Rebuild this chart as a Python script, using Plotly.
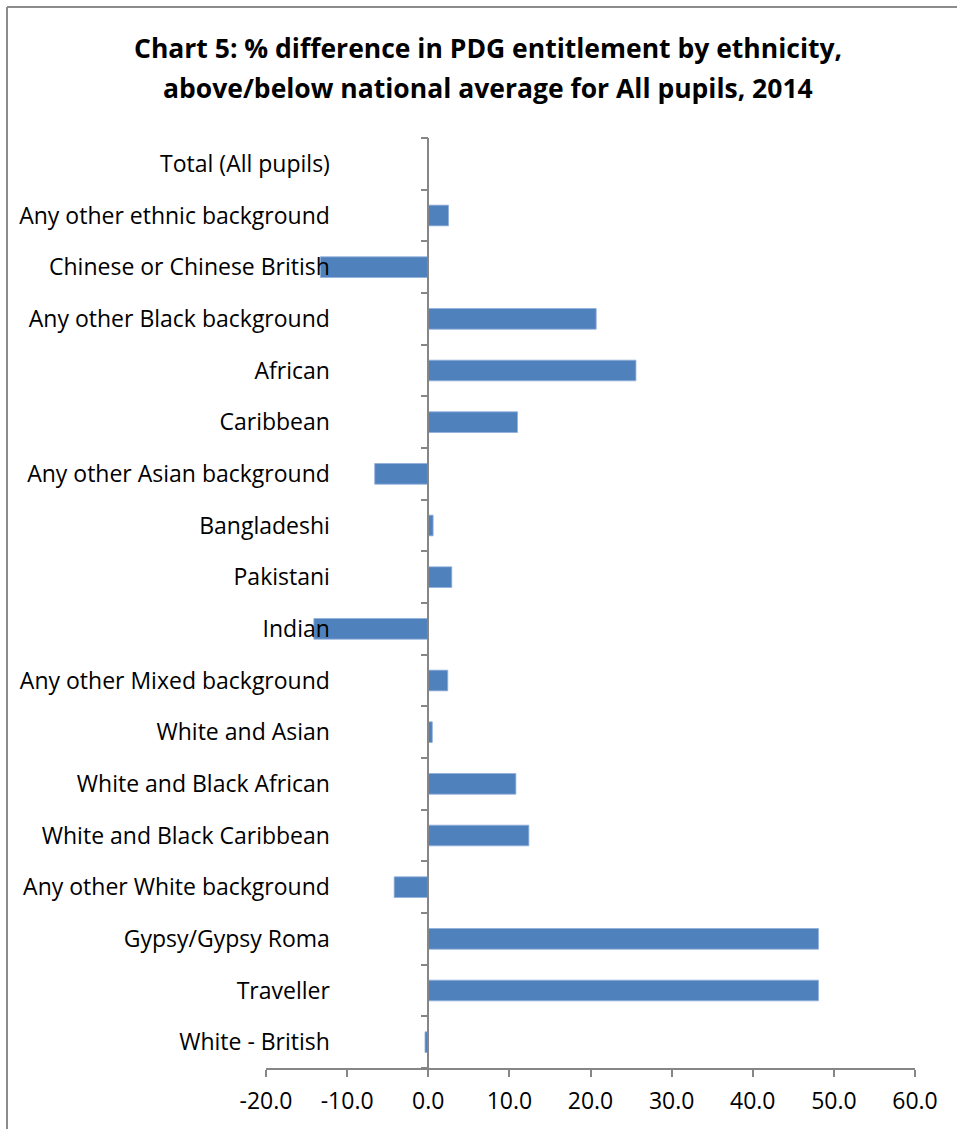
import plotly.graph_objects as go

# Ethnic groups, listed bottom to top as they appear on the chart
groups = [
    "White - British",
    "Traveller",
    "Gypsy/Gypsy Roma",
    "Any other White background",
    "White and Black Caribbean",
    "White and Black African",
    "White and Asian",
    "Any other Mixed background",
    "Indian",
    "Pakistani",
    "Bangladeshi",
    "Any other Asian background",
    "Caribbean",
    "African",
    "Any other Black background",
    "Chinese or Chinese British",
    "Any other ethnic background",
    "Total (All pupils)",
]

# % difference in PDG entitlement vs national average
pct_diff = [
    -0.4, 48.1, 48.1, -4.2, 12.4, 10.8, 0.5, 2.4, -14.1,
    2.9, 0.6, -6.6, 11.0, 25.6, 20.7, -13.3, 2.5, 0.0,
]

x_ticks = [-20, -10, 0, 10, 20, 30, 40, 50, 60]
x_tick_labels = [f"{v:.1f}" for v in x_ticks]

title_lines = [
    "Chart 5: % difference in PDG entitlement by ethnicity,",
    "above/below national average for All pupils, 2014",
]

W, H = 957, 1129
ML, MR, MT, MB = 266, 42, 138, 61
PW, PH = W - ML - MR, H - MT - MB

FONT = "Open Sans, sans-serif"
GREY = "#868686"

fig = go.Figure(
    go.Bar(
        x=pct_diff,
        y=groups,
        orientation="h",
        marker=dict(color="#4F81BD", line=dict(color="#8FAEDA", width=0.8)),
        hoverinfo="x+y",
    )
)


def px_x(p):
    return (p - ML) / PW


def px_y(p):
    return 1 - (p - MT) / PH


# chart-area frame (left and top edges)
frame = dict(type="line", xref="paper", yref="paper",
             line=dict(color="#8C8C8C", width=2))
fig.add_shape(**frame, x0=px_x(7), x1=px_x(7), y0=px_y(7), y1=px_y(H + 5))
fig.add_shape(**frame, x0=px_x(7), x1=px_x(W + 5), y0=px_y(7), y1=px_y(7))

# two-line bold title, with Excel-like line spacing
for line, ypx in zip(title_lines, [48, 88]):
    fig.add_annotation(
        text=f"<b>{line}</b>",
        xref="paper", yref="paper",
        x=px_x(488), y=px_y(ypx),
        xanchor="center", yanchor="middle",
        showarrow=False,
        font=dict(family=FONT, size=26.5, color="black"),
    )

fig.update_layout(
    width=W,
    height=H,
    margin=dict(l=ML, r=MR, t=MT, b=MB, autoexpand=False),
    paper_bgcolor="white",
    plot_bgcolor="white",
    showlegend=False,
    bargap=0.6,
    font=dict(family=FONT, color="black"),
    xaxis=dict(
        range=[-20, 60],
        tickvals=x_ticks,
        ticktext=x_tick_labels,
        showgrid=False,
        zeroline=False,
        showline=True,
        linecolor=GREY,
        linewidth=1.5,
        ticks="outside",
        ticklen=7,
        tickwidth=1.5,
        tickcolor=GREY,
        ticklabelstandoff=5,
        tickfont=dict(family=FONT, size=23, color="black"),
        fixedrange=True,
    ),
    yaxis=dict(
        type="category",
        categoryorder="array",
        categoryarray=groups,
        range=[-0.5, len(groups) - 0.5],
        anchor="free",
        position=0.25,
        showgrid=False,
        zeroline=False,
        showline=True,
        linecolor=GREY,
        linewidth=1.5,
        ticks="outside",
        tickson="boundaries",
        ticklen=7,
        tickwidth=1.5,
        tickcolor=GREY,
        ticklabelstandoff=93,
        tickfont=dict(family=FONT, size=23, color="black"),
        fixedrange=True,
    ),
)

fig.write_html("out.html")
